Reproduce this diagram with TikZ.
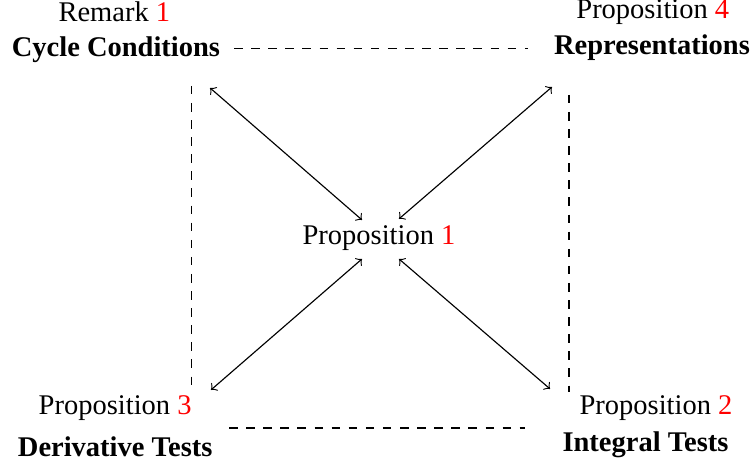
\documentclass[tikz,border=0pt]{standalone}
\usepackage{fontspec}
\setmainfont{Liberation Serif}
\usepackage{xcolor}

\begin{document}
\begin{tikzpicture}
\useasboundingbox (0,0) rectangle (9.31,5.77);
\node [anchor=base] (remark) at (1.41,5.50) {Remark \textcolor{red}{1}};
\node [anchor=base] (cycle) at (1.43,5.075) {\textbf{Cycle Conditions}};
\node [anchor=base] (prop4) at (8.05,5.537) {Proposition \textcolor{red}{4}};
\node [anchor=base] (repr) at (8.04,5.093) {\textbf{Representations}};
\node [anchor=base] (prop3) at (1.42,0.654) {Proposition \textcolor{red}{3}};
\node [anchor=base] (deriv) at (1.42,0.136) {\textbf{Derivative Tests}};
\node [anchor=base] (prop2) at (8.09,0.654) {Proposition \textcolor{red}{2}};
\node [anchor=base] (integ) at (7.96,0.197) {\textbf{Integral Tests}};
\node [anchor=base] (prop1) at (4.674,2.75) {Proposition \textcolor{red}{1}};
% dashed sides
\coordinate (top1) at (2.886,5.173);
\coordinate (top2) at (6.511,5.173);
\coordinate (bot1) at (2.824,0.493);
\coordinate (bot2) at (6.474,0.493);
\coordinate (lft1) at (2.362,4.711);
\coordinate (lft2) at (2.362,0.999);
\coordinate (rgt1) at (7.017,4.600);
\coordinate (rgt2) at (7.017,0.937);
\foreach \a/\b in {top1/top2,bot1/bot2,lft1/lft2,rgt1/rgt2}{
\draw[dashed] (\a) -- (\b);
}
% arrows to the middle
\coordinate (tl) at (2.590,4.686);
\coordinate (tr) at (6.807,4.698);
\coordinate (bl) at (2.602,0.962);
\coordinate (br) at (6.783,0.974);
\coordinate (mtl) at (4.464,3.058);
\coordinate (mtr) at (4.920,3.071);
\coordinate (mbl) at (4.464,2.577);
\coordinate (mbr) at (4.920,2.577);
\foreach \a/\b in {tl/mtl,tr/mtr,bl/mbl,br/mbr}{
\draw[<->] (\a) -- (\b);
}
\end{tikzpicture}
\end{document}
